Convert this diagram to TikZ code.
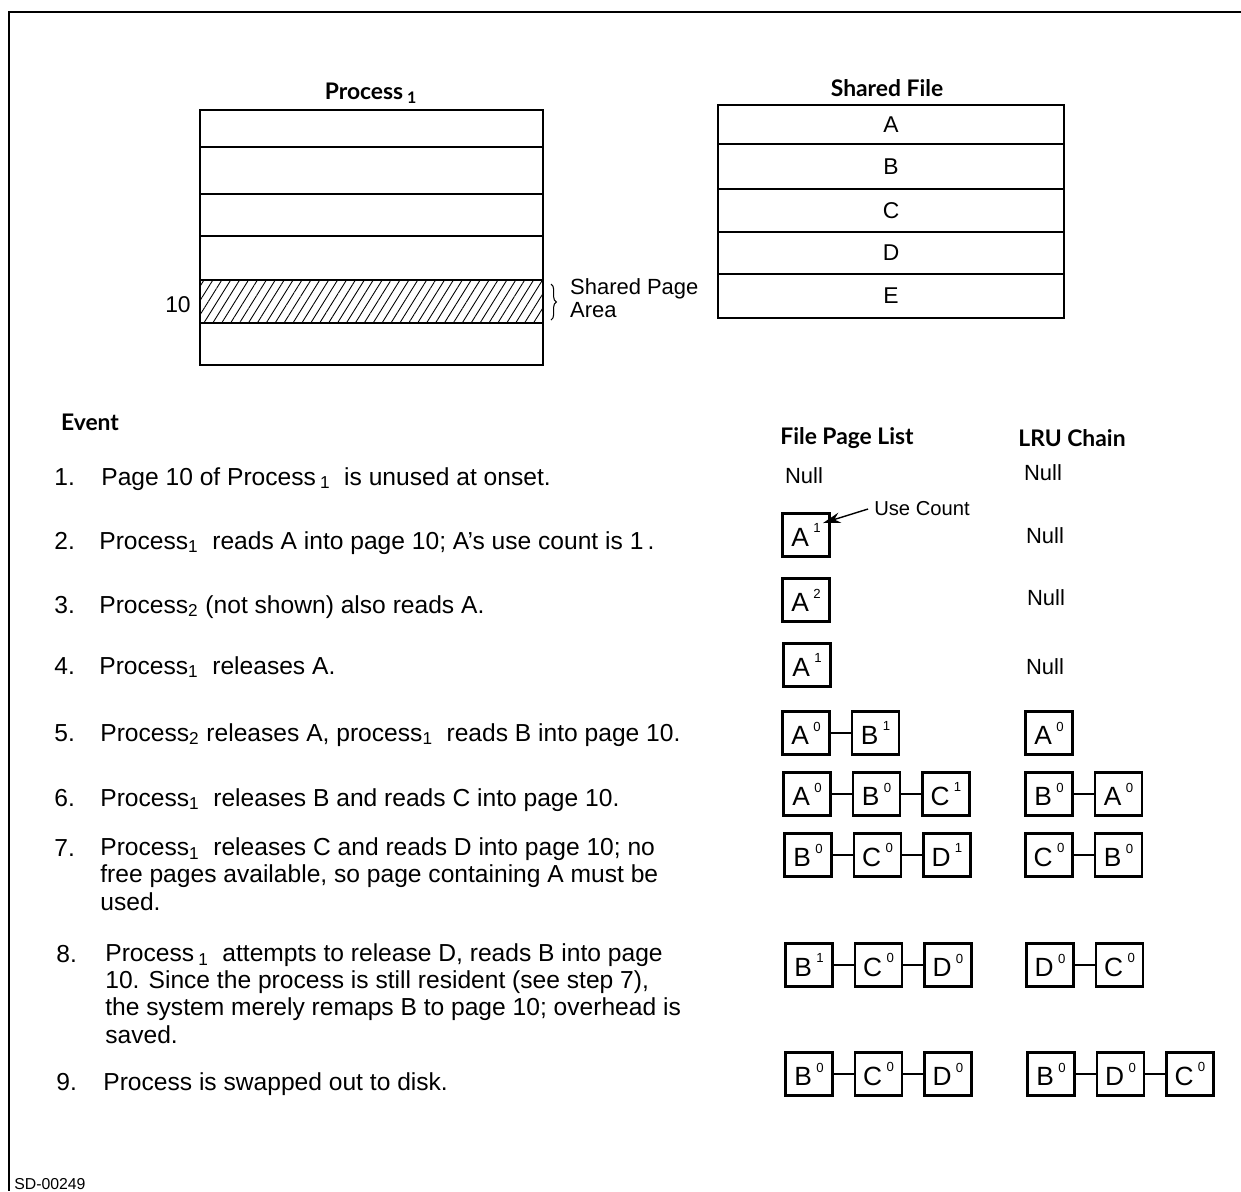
\documentclass[tikz,border=0pt]{standalone}
\usepackage{fontspec}
\setmainfont{Liberation Sans}
\newfontfamily\headfont{Lato}
\usetikzlibrary{arrows.meta,positioning,patterns.meta,decorations.pathreplacing}

\newcommand{\uc}[2]{#1\,\raisebox{0.5em}{\fontsize{7.5}{8}\selectfont #2}}

\begin{document}
\begin{tikzpicture}[x=0.02cm, y=-0.02cm,
  head/.style={font=\headfont\bfseries\fontsize{13}{15}\selectfont},
  ev/.style={font=\fontsize{14}{15.4}\selectfont, anchor=base west,
    inner sep=0pt, align=left},
  pg/.style={draw, line width=1.4pt, minimum width=0.94cm,
    minimum height=0.86cm, inner sep=0pt, font=\fontsize{15}{16}\selectfont},
  link/.style={line width=1.4pt},
  tbl/.style={line width=1.2pt},
  lbl/.style={font=\fontsize{12.5}{13}\selectfont},
  node distance=0.4cm
]
  \useasboundingbox (0,0) rectangle (1241,1191);
  \draw[line width=1pt] (1241,12) -- (9,12) -- (9,1191);

  % process pages, page 10 shared
  \node[head] (proc) at (371,93) {Process\,\textsubscript{1}};
  \fill[pattern={Lines[angle=58,distance=4.3pt,line width=0.5pt]}]
    (200,280) rectangle (543,323);
  \draw[tbl] (200,110) rectangle (543,365);
  \foreach \y in {147,194,236,280,323}
    \draw[tbl] (200,\y) -- (543,\y);
  \node[font=\fontsize{13}{15}\selectfont] (ten) at (178,305) {10};
  \draw[decorate, decoration={brace, amplitude=3pt}, line width=0.6pt]
    (551,284) -- (551,320);
  \node[lbl, align=left, anchor=west] (spa) at (564,298) {Shared Page\\Area};

  % shared file
  \node[head] (sfile) at (887,88) {Shared File};
  \draw[tbl] (718,105) rectangle (1064,318);
  \foreach \y in {144,189,232,274}
    \draw[tbl] (718,\y) -- (1064,\y);
  \foreach \l/\y in {A/125,B/167,C/211,D/253,E/296}
    \node[font=\fontsize{13}{15}\selectfont] (sf\l) at (891,\y) {\l};

  % events (multi-line nodes sit on their last baseline)
  \node[head] (event) at (90,422) {Event};
  \node[ev] (n1) at (54,485) {1.};
  \node[ev] (e1) at (101,485) {Page 10 of Process\,\textsubscript{1}\ \ is unused at onset.};
  \node[ev] (n2) at (54,549) {2.};
  \node[ev] (e2) at (99,549) {Process\textsubscript{1}\ \ reads A into page 10;\ A's use count is 1\,.};
  \node[ev] (n3) at (54,613) {3.};
  \node[ev] (e3) at (99,613) {Process\textsubscript{2}\ (not shown)\ also reads A.};
  \node[ev] (n4) at (54,674) {4.};
  \node[ev] (e4) at (99,674) {Process\textsubscript{1}\ \ releases A.};
  \node[ev] (n5) at (54,741) {5.};
  \node[ev] (e5) at (100,741) {Process\textsubscript{2} releases A, process\textsubscript{1}\ \ reads B into page 10.};
  \node[ev] (n6) at (54,806) {6.};
  \node[ev] (e6) at (100,806) {Process\textsubscript{1}\ \ releases B and reads C into page 10.};
  \node[ev] (n7) at (54,856) {7.};
  \node[ev] (e7) at (100,910) {Process\textsubscript{1}\ \ releases C and reads D into page 10; no\\
    free pages available, so page containing A must be\\used.};
  \node[ev] (n8) at (56,962) {8.};
  \node[ev] (e8) at (105,1043) {Process\,\textsubscript{1}\ \ attempts to release D, reads B into page\\
    10. Since the process is still resident (see step 7),\\
    the system merely remaps B to page 10; overhead is\\saved.};
  \node[ev] (n9) at (56,1090) {9.};
  \node[ev] (e9) at (103,1090) {Process is swapped out to disk.};

  % file page list and LRU chain
  \node[head] (fpl) at (847,438) {File Page List};
  \node[head] (lru) at (1072,438) {LRU Chain};
  \node[lbl] (fn1) at (804,476) {Null};
  \node[lbl] (ln1) at (1043,473) {Null};
  \node[lbl] (ln2) at (1045,536) {Null};
  \node[lbl] (ln3) at (1046,598) {Null};
  \node[lbl] (ln4) at (1045,667) {Null};

  \node[pg] (f2a) at (806,535) {\uc{A}{1}};
  \node[font=\fontsize{11.5}{13}\selectfont] (ucl) at (922,509) {Use Count};
  \coordinate (uctip) at (823,523);
  \draw[-{Stealth[length=10pt,width=6pt]}, line width=0.8pt] (ucl.west) -- (uctip);
  \node[pg] (f3a) at (806,600) {\uc{A}{2}};
  \node[pg] (f4a) at (807,665) {\uc{A}{1}};

  \node[pg] (f5a) at (806,733) {\uc{A}{0}};
  \node[pg, right=of f5a] (f5b) {\uc{B}{1}};
  \node[pg] (l5a) at (1049,733) {\uc{A}{0}};

  \node[pg] (f6a) at (807,794) {\uc{A}{0}};
  \node[pg, right=of f6a] (f6b) {\uc{B}{0}};
  \node[pg, right=of f6b] (f6c) {\uc{C}{1}};
  \node[pg] (l6b) at (1049,794) {\uc{B}{0}};
  \node[pg, right=of l6b] (l6a) {\uc{A}{0}};

  \node[pg] (f7b) at (808,855) {\uc{B}{0}};
  \node[pg, right=of f7b] (f7c) {\uc{C}{0}};
  \node[pg, right=of f7c] (f7d) {\uc{D}{1}};
  \node[pg] (l7c) at (1049,855) {\uc{C}{0}};
  \node[pg, right=of l7c] (l7b) {\uc{B}{0}};

  \node[pg] (f8b) at (809,965) {\uc{B}{1}};
  \node[pg, right=of f8b] (f8c) {\uc{C}{0}};
  \node[pg, right=of f8c] (f8d) {\uc{D}{0}};
  \node[pg] (l8d) at (1050,965) {\uc{D}{0}};
  \node[pg, right=of l8d] (l8c) {\uc{C}{0}};

  \node[pg] (f9b) at (809,1074) {\uc{B}{0}};
  \node[pg, right=of f9b] (f9c) {\uc{C}{0}};
  \node[pg, right=of f9c] (f9d) {\uc{D}{0}};
  \node[pg] (l9b) at (1051,1074) {\uc{B}{0}};
  \node[pg, right=of l9b] (l9d) {\uc{D}{0}};
  \node[pg, right=of l9d] (l9c) {\uc{C}{0}};

  \foreach \a/\b in {f5a/f5b, f6a/f6b, f6b/f6c, l6b/l6a, f7b/f7c, f7c/f7d,
      l7c/l7b, f8b/f8c, f8c/f8d, l8d/l8c, f9b/f9c, f9c/f9d, l9b/l9d, l9d/l9c}
    \draw[link] (\a) -- (\b);

  \node[font=\fontsize{9}{10}\selectfont, anchor=base west, inner sep=0pt]
    (sd) at (14,1189) {SD-00249};
\end{tikzpicture}
\end{document}
